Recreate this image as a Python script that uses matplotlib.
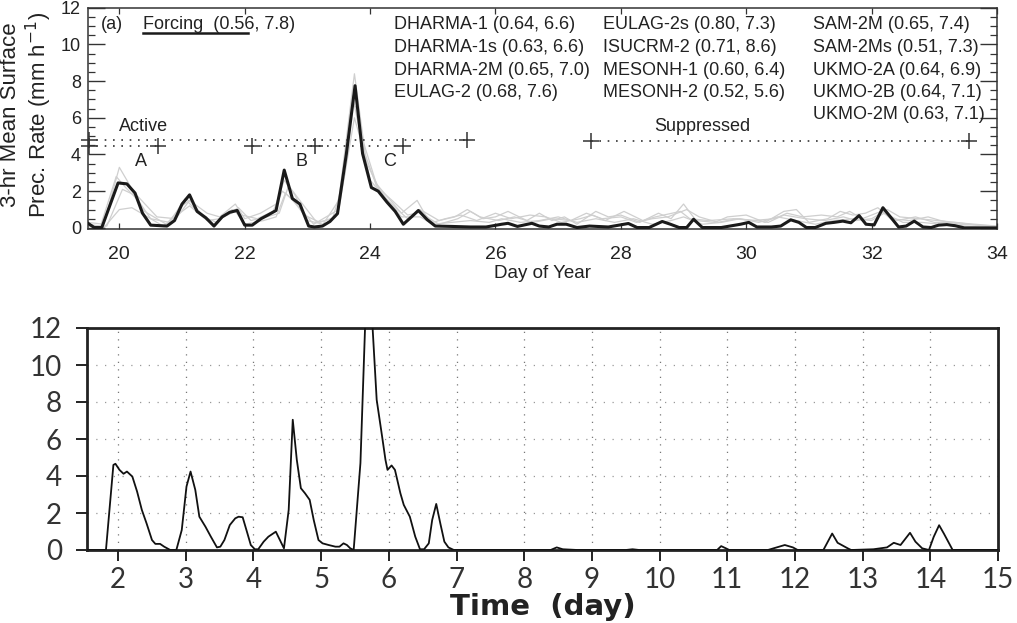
import matplotlib
matplotlib.use("Agg")
import matplotlib.pyplot as plt
import numpy as np

# ---------------- Top panel data (forcing, black) ----------------
forcing_day = [19.5, 19.6, 19.72, 19.98, 20.12, 20.25, 20.37, 20.5, 20.76, 20.88,
               21.0, 21.12, 21.24, 21.38, 21.51, 21.64, 21.76, 21.88, 22.0, 22.12,
               22.26, 22.38, 22.5, 22.63, 22.76, 22.88, 23.02, 23.11, 23.24, 23.36,
               23.48, 23.62, 23.76, 23.88, 24.02, 24.13, 24.27, 24.4, 24.53, 24.66,
               24.77, 24.91, 25.04, 25.3, 25.6, 25.85, 26.1, 26.2, 26.35, 26.58,
               26.7, 26.85, 26.98, 27.13, 27.3, 27.5, 27.8, 28.12, 28.26, 28.45,
               28.66, 28.79, 28.93, 29.05, 29.16, 29.3, 29.6, 29.91, 30.04, 30.17,
               30.4, 30.55, 30.71, 30.84, 30.96, 31.1, 31.27, 31.4, 31.54, 31.67,
               31.8, 31.91, 32.04, 32.18, 32.3, 32.43, 32.55, 32.68, 32.82, 32.95,
               33.07, 33.2, 33.33, 33.48, 34.0]
forcing_rate = [0.25, 0.02, 0.02, 2.45, 2.4, 1.9, 0.8, 0.15, 0.1, 0.4,
                1.3, 1.8, 0.9, 0.55, 0.1, 0.6, 0.85, 0.95, 0.15, 0.15,
                0.5, 0.72, 0.95, 3.15, 1.6, 1.3, 0.1, 0.05, 0.1, 0.35,
                0.78, 4.0, 7.75, 4.05, 2.2, 2.0, 1.4, 0.9, 0.2, 0.6,
                0.95, 0.45, 0.1, 0.08, 0.05, 0.05, 0.2, 0.25, 0.08, 0.25,
                0.1, 0.05, 0.2, 0.2, 0.02, 0.1, 0.05, 0.24, 0.02, 0.02,
                0.35, 0.2, 0.02, 0.02, 0.47, 0.02, 0.02, 0.2, 0.3, 0.05,
                0.05, 0.1, 0.44, 0.3, 0.02, 0.02, 0.25, 0.3, 0.37, 0.28,
                0.67, 0.2, 0.16, 1.1, 0.6, 0.05, 0.1, 0.37, 0.05, 0.02,
                0.15, 0.18, 0.12, 0.0, 0.0]

# ---------------- Top panel data (models, grey) ----------------
model_a_day = [19.5, 19.75, 20.0, 20.12, 20.4, 20.6, 20.75, 21.0, 21.12, 21.4,
               21.6, 21.85, 22.0, 22.25, 22.5, 22.63, 22.8, 23.0, 23.25, 23.5,
               23.75, 23.9, 24.1, 24.3, 24.5, 24.75, 24.9, 25.1, 25.4, 25.6,
               25.8, 26.0, 26.2, 26.5, 26.7, 26.9, 27.1, 27.3, 27.6, 27.8,
               28.0, 28.3, 28.6, 28.8, 29.0, 29.2, 29.5, 29.7, 30.0, 30.3,
               30.6, 30.8, 31.0, 31.3, 31.5, 31.7, 31.9, 32.1, 32.3, 32.6,
               32.9, 33.1, 33.4, 34.0]
model_a_rate = [0.3, 0.2, 3.3, 2.6, 0.9, 0.5, 0.2, 1.2, 1.5, 0.8,
                0.6, 1.3, 0.5, 0.8, 1.3, 2.6, 1.8, 0.4, 0.2, 1.5,
                8.4, 4.6, 2.4, 1.6, 0.8, 1.5, 0.6, 0.2, 0.5, 0.9,
                0.5, 0.6, 0.9, 0.4, 0.8, 0.4, 0.6, 0.2, 0.9, 0.6,
                0.7, 0.3, 0.8, 0.5, 1.3, 0.4, 0.3, 0.6, 0.7, 0.3,
                0.9, 1.0, 0.3, 0.5, 0.9, 0.7, 0.8, 1.1, 0.5, 0.4,
                0.6, 0.4, 0.2, 0.1]

model_b_day = [19.5, 19.75, 20.0, 20.2, 20.45, 20.7, 21.0, 21.12, 21.4, 21.6,
               21.85, 22.0, 22.3, 22.5, 22.65, 22.85, 23.1, 23.5, 23.75, 23.9,
               24.1, 24.3, 24.5, 24.8, 25.0, 25.3, 25.6, 25.9, 26.1, 26.4,
               26.7, 27.0, 27.3, 27.6, 27.9, 28.2, 28.5, 28.8, 29.0, 29.3,
               29.6, 29.9, 30.2, 30.5, 30.8, 31.1, 31.4, 31.7, 32.0, 32.2,
               32.5, 32.8, 33.1, 33.5, 34.0]
model_b_rate = [0.1, 0.0, 1.0, 1.1, 0.6, 0.1, 0.9, 1.2, 0.4, 0.5,
                0.9, 0.2, 0.4, 0.6, 1.9, 1.2, 0.2, 1.0, 6.0, 4.2,
                2.3, 1.4, 0.6, 0.6, 0.2, 0.3, 0.4, 0.3, 0.5, 0.3,
                0.4, 0.6, 0.3, 0.5, 0.3, 0.5, 0.2, 0.4, 0.6, 0.2,
                0.3, 0.5, 0.3, 0.6, 0.4, 0.2, 0.4, 0.5, 0.4, 0.8,
                0.3, 0.3, 0.2, 0.1, 0.0]

model_c_day = [19.5, 19.7, 19.95, 20.1, 20.3, 20.5, 20.8, 21.05, 21.15, 21.35,
               21.55, 21.8, 21.95, 22.2, 22.45, 22.6, 22.75, 22.95, 23.2, 23.45,
               23.6, 23.72, 23.85, 24.0, 24.2, 24.4, 24.6, 24.8, 25.0, 25.2,
               25.45, 25.7, 26.0, 26.25, 26.55, 26.8, 27.05, 27.35, 27.55, 27.75,
               28.05, 28.35, 28.55, 28.95, 29.1, 29.4, 29.8, 30.1, 30.45, 30.65,
               30.9, 31.2, 31.45, 31.65, 31.85, 32.15, 32.4, 32.7, 33.0, 33.3,
               34.0]
model_c_rate = [0.2, 0.1, 2.8, 2.2, 1.5, 0.5, 0.3, 1.6, 1.4, 0.6,
                0.3, 1.0, 0.7, 0.5, 0.9, 2.0, 1.6, 0.7, 0.3, 0.6,
                3.0, 7.2, 5.0, 2.6, 1.8, 1.1, 0.5, 1.0, 0.3, 0.5,
                0.7, 0.4, 0.8, 0.5, 0.7, 0.6, 0.3, 0.5, 0.7, 0.4,
                0.9, 0.4, 0.6, 0.9, 0.5, 0.4, 0.5, 0.4, 0.5, 0.8,
                0.6, 0.7, 0.6, 0.9, 0.5, 0.9, 0.4, 0.6, 0.3, 0.3,
                0.1]

model_d_day = [19.5, 19.8, 20.05, 20.3, 20.6, 20.9, 21.1, 21.3, 21.5, 21.7,
               21.9, 22.1, 22.35, 22.55, 22.7, 22.9, 23.15, 23.4, 23.55, 23.7,
               23.8, 23.95, 24.15, 24.35, 24.6, 24.85, 25.1, 25.35, 25.55, 25.75,
               26.05, 26.3, 26.6, 26.9, 27.2, 27.45, 27.7, 28.0, 28.25, 28.5,
               28.75, 29.05, 29.25, 29.55, 29.85, 30.15, 30.35, 30.6, 30.95, 31.25,
               31.55, 31.75, 32.0, 32.25, 32.45, 32.75, 33.05, 33.35, 34.0]
model_d_rate = [0.1, 0.1, 2.1, 1.7, 0.6, 0.5, 1.4, 0.7, 0.2, 0.7,
                1.1, 0.4, 0.6, 0.8, 2.3, 1.4, 0.3, 0.5, 2.2, 6.8,
                6.5, 3.5, 2.1, 1.5, 0.7, 0.9, 0.4, 0.6, 1.0, 0.6,
                0.4, 0.6, 0.3, 0.5, 0.4, 0.8, 0.5, 0.6, 0.3, 0.5,
                0.6, 1.0, 0.6, 0.3, 0.5, 0.4, 0.3, 0.7, 0.5, 0.4,
                0.6, 0.4, 0.5, 1.0, 0.6, 0.5, 0.4, 0.3, 0.0]

model_days = [model_a_day, model_b_day, model_c_day, model_d_day]
model_rates = [model_a_rate, model_b_rate, model_c_rate, model_d_rate]

legend_col1 = ["DHARMA-1 (0.64, 6.6)", "DHARMA-1s (0.63, 6.6)",
               "DHARMA-2M (0.65, 7.0)", "EULAG-2 (0.68, 7.6)"]
legend_col2 = ["EULAG-2s (0.80, 7.3)", "ISUCRM-2 (0.71, 8.6)",
               "MESONH-1 (0.60, 6.4)", "MESONH-2 (0.52, 5.6)"]
legend_col3 = ["SAM-2M (0.65, 7.4)", "SAM-2Ms (0.51, 7.3)",
               "UKMO-2A (0.64, 6.9)", "UKMO-2B (0.64, 7.1)",
               "UKMO-2M (0.63, 7.1)"]

# ---------------- Bottom panel data ----------------
bottom_day = [1.54, 1.82, 1.93, 1.96, 2.02, 2.08, 2.13, 2.21, 2.28, 2.35,
              2.42, 2.5, 2.55, 2.62, 2.68, 2.77, 2.86, 2.94, 3.01, 3.07,
              3.14, 3.2, 3.29, 3.37, 3.46, 3.51, 3.57, 3.65, 3.73, 3.78,
              3.84, 3.91, 3.96, 4.02, 4.07, 4.15, 4.22, 4.33, 4.39, 4.45,
              4.52, 4.58, 4.64, 4.7, 4.76, 4.83, 4.89, 4.96, 5.02, 5.11,
              5.21, 5.27, 5.33, 5.38, 5.43, 5.48, 5.58, 5.69, 5.82, 5.9,
              5.95, 5.98, 6.04, 6.09, 6.17, 6.22, 6.31, 6.39, 6.46, 6.52,
              6.59, 6.64, 6.7, 6.76, 6.82, 6.88, 6.96, 8.39, 8.48, 8.57,
              8.79, 9.5, 9.6, 9.7, 10.85, 10.91, 10.98, 11.03, 11.6, 11.85,
              11.97, 12.04, 12.42, 12.55, 12.63, 12.78, 12.83, 13.16, 13.36, 13.46,
              13.56, 13.7, 13.78, 13.88, 13.98, 14.05, 14.13, 14.2, 14.33, 15.0]
bottom_rate = [0.0, 0.0, 4.6, 4.66, 4.33, 4.12, 4.24, 3.97, 3.16, 2.17,
               1.44, 0.54, 0.33, 0.33, 0.18, 0.0, 0.0, 1.08, 3.43, 4.24,
               3.25, 1.8, 1.26, 0.72, 0.14, 0.18, 0.54, 1.35, 1.71, 1.8,
               1.77, 0.9, 0.27, 0.04, 0.04, 0.45, 0.72, 0.99, 0.54, 0.09,
               2.17, 7.04, 4.87, 3.34, 3.07, 2.71, 1.62, 0.54, 0.36, 0.27,
               0.18, 0.18, 0.36, 0.27, 0.09, 0.0, 4.7, 16.5, 8.12, 6.14,
               4.87, 4.33, 4.57, 4.33, 3.07, 2.44, 1.8, 0.72, 0.04, 0.04,
               0.36, 1.62, 2.49, 1.44, 0.45, 0.14, 0.0, 0.0, 0.14, 0.04,
               0.0, 0.0, 0.04, 0.0, 0.0, 0.21, 0.09, 0.0, 0.0, 0.27,
               0.14, 0.0, 0.0, 0.89, 0.39, 0.09, 0.0, 0.04, 0.14, 0.39,
               0.27, 0.93, 0.45, 0.09, 0.0, 0.71, 1.34, 0.89, 0.0, 0.0]

top_xticks = [20, 22, 24, 26, 28, 30, 32, 34]
top_yticks = [0, 2, 4, 6, 8, 10, 12]
bottom_xticks = list(range(2, 16))
bottom_yticks = [0, 2, 4, 6, 8, 10, 12]

# ---------------- Figure ----------------
W, H = 1017, 623
fig = plt.figure(figsize=(W / 100, H / 100), dpi=100)
fig.patch.set_facecolor("white")

sans = ["Liberation Sans", "DejaVu Sans"]

# ---- Top panel ----
ax1 = fig.add_axes([88 / W, 1 - 229 / H, 909 / W, 221.3 / H])
for d, r in zip(model_days, model_rates):
    ax1.plot(d, r, color="#cfcfcf", lw=0.9, zorder=1)
ax1.plot(forcing_day, forcing_rate, color="#1a1a1a", lw=2.2, zorder=3)

ax1.set_xlim(19.5, 34)
ax1.set_ylim(-0.06, 12)
ax1.set_xticks(top_xticks)
ax1.set_yticks(top_yticks)
ax1.set_yticks(np.arange(0, 12.01, 0.5), minor=True)
ax1.tick_params(axis="y", which="major", direction="in", length=12, width=1.0,
                left=True, right=True, labelsize=13, pad=5, color="#333333")
ax1.tick_params(axis="y", which="minor", direction="in", length=5, width=0.9,
                left=True, right=True, color="#333333")
ax1.tick_params(axis="x", which="major", direction="in", length=4, width=0.9,
                top=True, bottom=True, labelsize=14, pad=12, color="#333333")
for lab in ax1.get_xticklabels() + ax1.get_yticklabels():
    lab.set_family(sans)
    lab.set_color("#222222")
for s in ax1.spines.values():
    s.set_linewidth(1.1)
    s.set_color("#333333")
ax1.set_xlabel("Day of Year", fontsize=13.5, family=sans, color="#222222", labelpad=2)
fig.text(27 / W, 1 - 115 / H, "3-hr Mean Surface\nPrec. Rate (mm h$^{-1}$)",
         rotation=90, ha="center", va="center", fontsize=16, family=sans,
         color="#222222", linespacing=1.15, multialignment="center")

# dotted regime lines
dot = (0, (1, 4))
ax1.plot([19.5, 25.54], [4.8, 4.8], ls=dot, color="#333333", lw=1.2)
ax1.plot([19.5, 20.62], [4.46, 4.46], ls=dot, color="#333333", lw=1.2)
ax1.plot([22.12, 24.52], [4.46, 4.46], ls=dot, color="#333333", lw=1.2)
ax1.plot([27.53, 33.55], [4.72, 4.72], ls=dot, color="#333333", lw=1.2)
ax1.plot([19.52, 25.54], [4.8, 4.8], ls="none", marker="+", ms=11, mew=1.1,
         color="#333333", clip_on=False)
ax1.plot([19.52, 20.62, 22.12, 23.12, 24.52], [4.46] * 5, ls="none", marker="+",
         ms=11, mew=1.1, color="#333333", clip_on=False)
ax1.plot([27.53, 33.55], [4.72, 4.72], ls="none", marker="+", ms=11, mew=1.1,
         color="#333333")

tk = dict(fontsize=13, family=sans, color="#222222")
ax1.text(20.38, 5.5, "Active", ha="center", va="center", **tk)
ax1.text(20.34, 3.6, "A", ha="center", va="center", **tk)
ax1.text(22.9, 3.6, "B", ha="center", va="center", **tk)
ax1.text(24.31, 3.6, "C", ha="center", va="center", **tk)
ax1.text(29.3, 5.5, "Suppressed", ha="center", va="center", **tk)
ax1.text(19.7, 11.06, "(a)", ha="left", va="center", **tk)
ax1.text(20.38, 11.06, "Forcing  (0.56, 7.8)", ha="left", va="center", **tk)
ax1.plot([20.38, 22.05], [10.6, 10.6], color="#1a1a1a", lw=1.8)

row_y = [11.06, 9.81, 8.56, 7.36, 6.16]
for col_x, col in zip([24.38, 27.72, 31.06], [legend_col1, legend_col2, legend_col3]):
    for yv, s in zip(row_y, col):
        ax1.text(col_x, yv, s, ha="left", va="center", **tk)

# ---- Bottom panel ----
thin = ["Lato", "DejaVu Sans"]
ax2 = fig.add_axes([87 / W, 1 - 550 / H, 911 / W, 222 / H])
ax2.plot(bottom_day, bottom_rate, color="#111111", lw=1.3, zorder=3)
ax2.set_xlim(1.54, 15)
ax2.set_ylim(0, 12)
ax2.set_xticks(bottom_xticks)
ax2.set_yticks(bottom_yticks)
for xv in bottom_xticks[:-1]:
    ax2.axvline(xv, color="#777777", lw=0.9, ls=(0, (1, 5)), zorder=1)
for yv in bottom_yticks[1:-1]:
    ax2.axhline(yv, color="#999999", lw=0.9, ls=(0, (1, 6)), zorder=1)
ax2.tick_params(axis="x", direction="out", length=8, width=1.4, pad=4,
                labelsize=20, color="#222222")
ax2.tick_params(axis="y", direction="out", length=8, width=1.4, pad=10,
                labelsize=20, color="#222222")
for lab in ax2.get_xticklabels() + ax2.get_yticklabels():
    lab.set_family(thin)
    lab.set_fontweight("normal")
    lab.set_color("#333333")
for s in ax2.spines.values():
    s.set_linewidth(2.0)
    s.set_color("#222222")
ax2.set_xlabel("Time  (day)", fontsize=21, fontweight="bold",
               family=["DejaVu Sans"], color="#222222", labelpad=0)

fig.savefig("out.png", dpi=100, facecolor="white")
